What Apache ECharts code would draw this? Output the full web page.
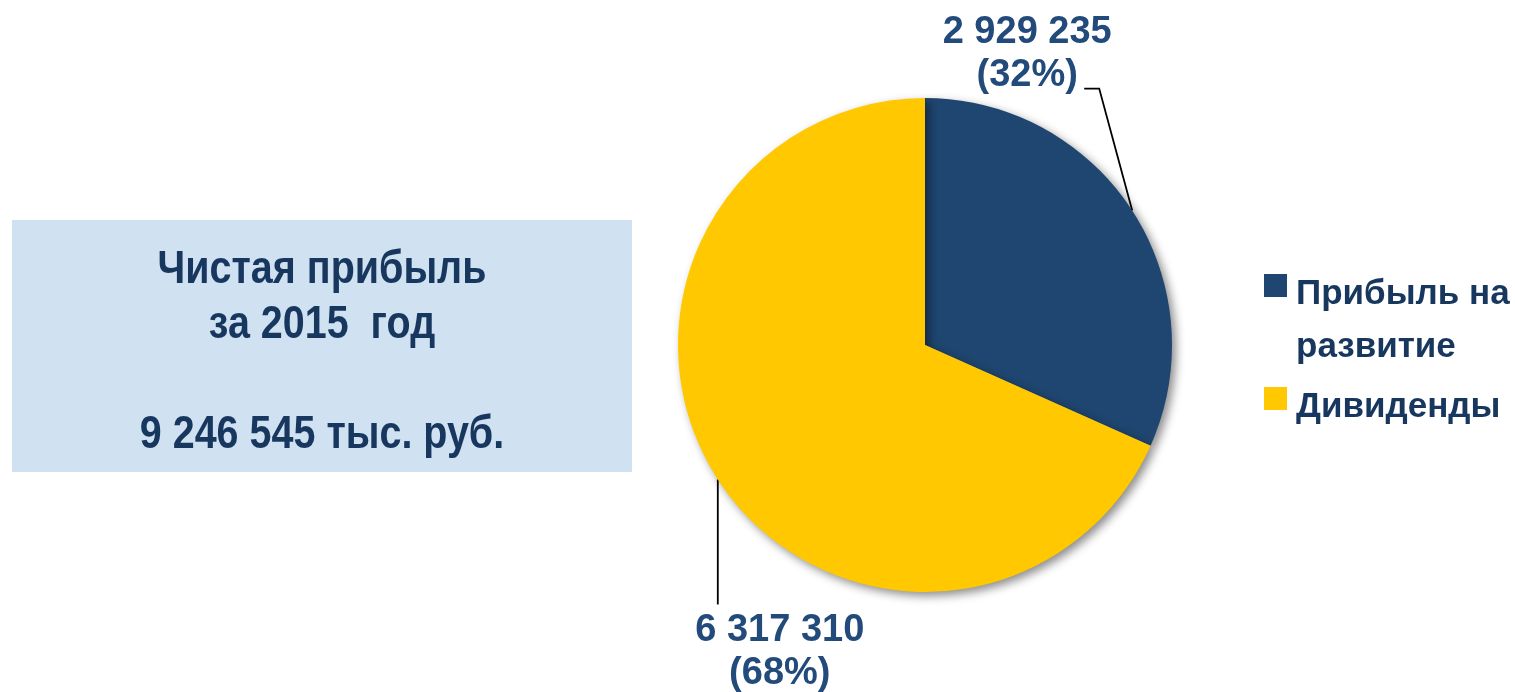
<!DOCTYPE html>
<html>
<head>
<meta charset="utf-8">
<script src="https://cdn.jsdelivr.net/npm/echarts@6/dist/echarts.min.js"></script>
<style>
html,body{margin:0;padding:0;background:#fff;}
#chart{width:1515px;height:692px;}
</style>
</head>
<body>
<div id="chart"></div>
<script>
// ---- data ----
const categories = ['Прибыль на развитие', 'Дивиденды'];
const values = [2929235, 6317310];
const legendLines = [['Прибыль на', 'развитие'], ['Дивиденды']];
const sliceColors = ['#1F4670', '#FFC800'];
const boxLines = ['Чистая прибыль', 'за 2015  год', ''];
const unitText = 'тыс. руб.';

function fmt(v) { return String(v).replace(/\B(?=(\d{3})+(?!\d))/g, ' '); }
const total = values.reduce((a, b) => a + b, 0);
const boxText = boxLines.concat([fmt(total) + ' ' + unitText]).join('\n');

// label placement offsets relative to the slice's outer mid-point (styling)
const labelOffsets = [
  { dx: -105, dy: -157, line: [[-33, -122], [-48, -122]] },
  { dx: 62, dy: 173, line: [[0, 125], [0, 125]] }
];

const chart = echarts.init(document.getElementById('chart'), null, { renderer: 'canvas' });
const textFont = '"Liberation Sans", Arial, sans-serif';

function legendFormatter(name) {
  const lines = legendLines[categories.indexOf(name)];
  // multi-line entries: add a blank leading line so the first line sits beside the marker
  const all = lines.length > 1 ? [' '].concat(lines) : lines;
  return all.map(s => '{t|' + s + '}').join('\n');
}

chart.setOption({
  animation: false,
  color: sliceColors,
  graphic: [
    { type: 'rect', shape: { x: 12, y: 220, width: 620, height: 252 }, style: { fill: '#D0E1F2' }, z: 0 },
    { type: 'text', z: 1, x: 322, y: 353, scaleX: 0.84, scaleY: 1,
      style: { text: boxText, x: 0, y: 0, align: 'center', verticalAlign: 'middle',
        font: 'bold 47px "Liberation Sans", Arial, sans-serif',
        lineHeight: 55, fill: '#17375E' } }
  ],
  legend: {
    orient: 'vertical', left: 1264, top: 206, padding: 0, itemGap: 7,
    icon: 'rect', itemWidth: 23, itemHeight: 23,
    selectedMode: false,
    data: categories,
    formatter: legendFormatter,
    textStyle: {
      fontFamily: textFont, fontWeight: 'bold', fontSize: 35, lineHeight: 53, color: '#17375E',
      rich: { t: { fontFamily: textFont, fontWeight: 'bold', fontSize: 35, lineHeight: 53, color: '#17375E', verticalAlign: 'bottom', padding: [0, 0, 0, 4] } }
    }
  },
  series: [{
    type: 'pie',
    center: [925, 345],
    radius: 247,
    startAngle: 90,
    clockwise: true,
    percentPrecision: 0,
    avoidLabelOverlap: false,
    emphasis: { disabled: true },
    itemStyle: { shadowBlur: 10, shadowColor: 'rgba(0,0,0,0.45)', shadowOffsetX: 4, shadowOffsetY: 4 },
    label: {
      show: true, position: 'outside',
      formatter: p => fmt(p.value) + '\n(' + p.percent + '%)',
      fontFamily: textFont, fontWeight: 'bold', fontSize: 38, lineHeight: 43, color: '#224A7A', align: 'center'
    },
    labelLine: { show: true, length: 20, length2: 10, lineStyle: { color: '#000', width: 1.8 } },
    labelLayout: function (params) {
      const o = labelOffsets[params.dataIndex];
      const p0 = params.labelLinePoints[0];
      return {
        x: p0[0] + o.dx, y: p0[1] + o.dy, align: 'center', verticalAlign: 'middle',
        labelLinePoints: [p0.slice(), [p0[0] + o.line[0][0], p0[1] + o.line[0][1]], [p0[0] + o.line[1][0], p0[1] + o.line[1][1]]]
      };
    },
    data: categories.map((c, i) => ({ name: c, value: values[i] }))
  }]
});
</script>
</body>
</html>
